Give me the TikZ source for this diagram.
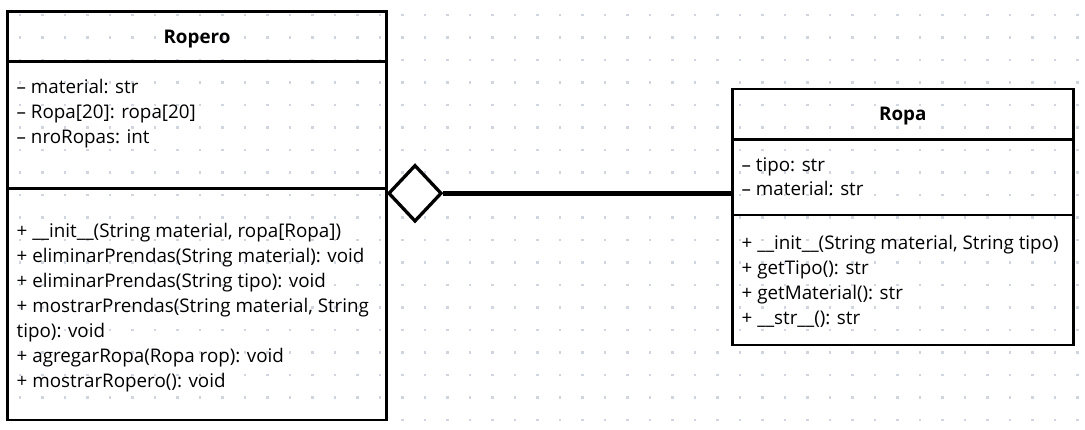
\documentclass[tikz,border=0pt]{standalone}
\usepackage{fontspec}
\setmainfont{Open Sans}
\usetikzlibrary{shapes.geometric}
\definecolor{dotc}{HTML}{D0D5DF}
\begin{document}
\begin{tikzpicture}[x=1pt,y=-1pt,
  box/.style={draw=black,line width=2.7pt,inner sep=0pt,rectangle},
  sep/.style={draw=black,line width=2.7pt},
  txt/.style={anchor=base west,inner sep=0pt,font=\fontsize{18.8}{25}\selectfont},
  ttl/.style={anchor=base,inner sep=0pt,font=\fontsize{18.8}{25}\selectfont\bfseries},
  agg/.style={diamond,draw=black,fill=white,line width=3.3pt,inner sep=0pt,minimum width=53.4pt,minimum height=56.7pt},
  assoc/.style={draw=black,line width=5pt}]
\useasboundingbox (0,0) rectangle (1085,430);
\fill[white] (0,0) rectangle (1085,430);
\foreach \i in {0,...,47} {\foreach \j in {0,...,18} {\fill[dotc] (20+22.5*\i-1.3,15+22.5*\j-1.3) rectangle ++(2.6,2.6);}}
% Ropero
\node[box,minimum width=378.4pt,minimum height=408.3pt] (ropero) at (197,215.9) {};
\draw[sep] (ropero.west |- 0,61.7) -- (ropero.east |- 0,61.7);
\draw[sep] (ropero.west |- 0,188.3) -- (ropero.east |- 0,188.3);
\node[ttl] (roperoT) at (197,43.3) {Ropero};
\node[txt] (ra1) at (16.5,94) {– material: str};
\node[txt] (ra2) at (16.5,119) {– Ropa[20]: ropa[20]};
\node[txt] (ra3) at (16.5,144) {– nroRopas: int};
\node[txt] (rm1) at (16.5,237.5) {+ \_\_init\_\_(String material, ropa[Ropa])};
\node[txt] (rm2) at (16.5,262.5) {+ eliminarPrendas(String material): void};
\node[txt] (rm3) at (16.5,287.5) {+ eliminarPrendas(String tipo): void};
\node[txt] (rm4) at (16.5,312.5) {+ mostrarPrendas(String material, String};
\node[txt] (rm5) at (16.5,337.5) {tipo): void};
\node[txt] (rm6) at (16.5,362.5) {+ agregarRopa(Ropa rop): void};
\node[txt] (rm7) at (16.5,387.5) {+ mostrarRopero(): void};
% Ropa
\node[box,minimum width=341pt,minimum height=256pt] (ropa) at (902.8,217) {};
\draw[sep] (ropa.west |- 0,139.3) -- (ropa.east |- 0,139.3);
\draw[sep] (ropa.west |- 0,215) -- (ropa.east |- 0,215);
\node[ttl] (ropaT) at (902.8,120.7) {Ropa};
\node[txt] (pa1) at (741.5,172) {– tipo: str};
\node[txt] (pa2) at (741.5,196) {– material: str};
\node[txt] (pm1) at (741.5,249.5) {+ \_\_init\_\_(String material, String tipo)};
\node[txt] (pm2) at (741.5,274.5) {+ getTipo(): str};
\node[txt] (pm3) at (741.5,299.5) {+ getMaterial(): str};
\node[txt] (pm4) at (741.5,324.5) {+ \_\_str\_\_(): str};
% aggregation
\node[agg] (dia) at (415,193.3) {};
\draw[assoc] (dia.east) -- (dia.east -| ropa.west);
\end{tikzpicture}
\end{document}
